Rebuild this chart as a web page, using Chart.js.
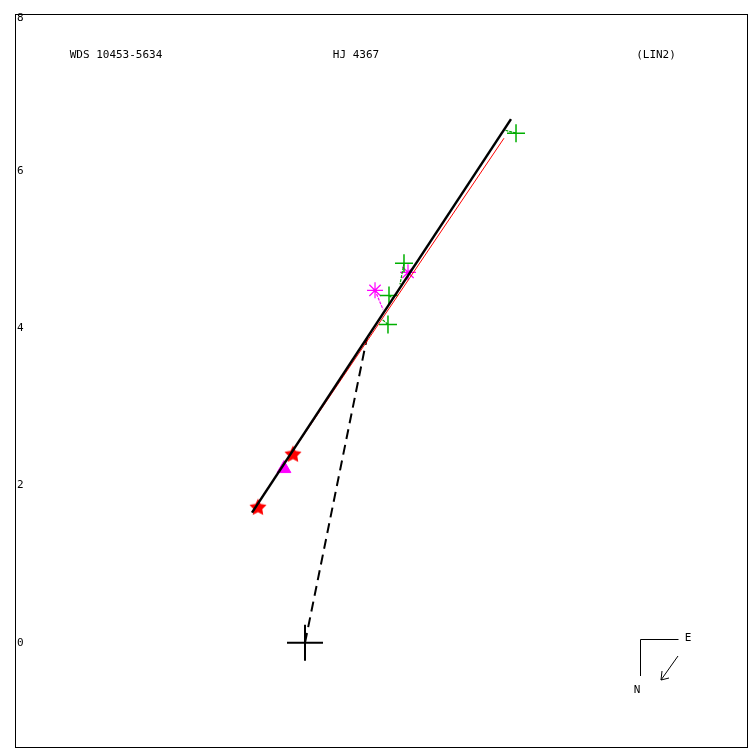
<!DOCTYPE html>
<html><head><meta charset="utf-8">
<script src="https://cdn.jsdelivr.net/npm/chart.js@4"></script>
<style>html,body{margin:0;padding:0;background:#fff;overflow:hidden}canvas{display:block}</style>
</head><body><canvas id="c" width="750" height="750" style="width:750px;height:750px"></canvas>
<script>
// ---- data ----
const orbitX = [-0.675, 2.624];
const orbitY = [1.656, 6.662];
const fitX = [-0.624, 2.535];
const fitY = [1.745, 6.420];
const nodeX = [0, 0.790];
const nodeY = [0, 3.885];
const measX = [2.688, 1.261, 1.070, 1.057];
const measY = [6.484, 4.828, 4.420, 4.051];
const measOX = [2.548, 1.210, 1.121, 0.981];
const measOY = [6.522, 4.561, 4.382, 4.115];
const astX = [0.892, 1.312];
const astY = [4.484, 4.713];
const astOX = [0.994, 1.274];
const astOY = [4.242, 4.675];
const starX = [-0.599, -0.153];
const starY = [1.720, 2.395];
const triX = [-0.268];
const triY = [2.217];
const primaryX = [0];
const primaryY = [0];
const yTicks = [0, 2, 4, 6, 8];
const titles = ["WDS 10453-5634", "HJ 4367", "(LIN2)"];

const pts = (xs, ys) => xs.map((x, i) => ({x, y: ys[i]}));
const segSets = (xs, ys, ox, oy, color) => xs.map((x, i) => ({
  data: [{x, y: ys[i]}, {x: ox[i], y: oy[i]}],
  showLine: true, borderColor: color, borderWidth: 1.2, borderDash: [3, 1], pointRadius: 0
}));

function starImg(r, color) {
  const c = document.createElement('canvas');
  c.width = c.height = r * 2 + 2;
  const g = c.getContext('2d');
  g.fillStyle = color;
  g.beginPath();
  for (let i = 0; i < 10; i++) {
    const a = -Math.PI / 2 + i * Math.PI / 5;
    const rr = i % 2 ? r * 0.5 : r;
    g.lineTo(r + 1 + rr * Math.cos(a), r + 1 + rr * Math.sin(a));
  }
  g.closePath(); g.fill();
  return c;
}

const mono = "'DejaVu Sans Mono', 'Liberation Mono', monospace";

const decor = {
  id: 'decor',
  afterDraw(chart) {
    const {ctx, chartArea: a} = chart;
    const ys = chart.scales.y;
    ctx.save();
    ctx.strokeStyle = '#000'; ctx.lineWidth = 1;
    ctx.strokeRect(a.left + 0.5, a.top + 0.5, a.right - a.left - 1, a.bottom - a.top - 1);
    ctx.fillStyle = '#000';
    ctx.font = '11px ' + mono;
    ctx.textAlign = 'left'; ctx.textBaseline = 'middle';
    yTicks.forEach(v => {
      const py = Math.max(ys.getPixelForValue(v), a.top + 4);
      ctx.fillText(String(v), a.left + 2, py);
    });
    ctx.textAlign = 'center';
    ctx.fillText(titles[0], 116, 55);
    ctx.fillText(titles[1], 356, 55);
    ctx.fillText(titles[2], 656, 55);
    ctx.beginPath();
    ctx.moveTo(678.5, 639.5); ctx.lineTo(640.5, 639.5); ctx.lineTo(640.5, 676);
    ctx.moveTo(678, 656); ctx.lineTo(661, 680);
    ctx.moveTo(661, 680); ctx.lineTo(662, 671);
    ctx.moveTo(661, 680); ctx.lineTo(669, 678);
    ctx.stroke();
    ctx.fillText('E', 688, 638);
    ctx.fillText('N', 637, 690);
    ctx.restore();
  }
};

new Chart(document.getElementById('c'), {
  type: 'scatter',
  data: {
    datasets: [
      {data: pts(orbitX, orbitY), showLine: true, borderColor: '#000', borderWidth: 2.5, pointRadius: 0},
      {data: pts(fitX, fitY), showLine: true, borderColor: '#ff0000', borderWidth: 1, pointRadius: 0},
      {data: pts(nodeX, nodeY), showLine: true, borderColor: '#000', borderWidth: 2, borderDash: [10, 6], pointRadius: 0},
      ...segSets(measX, measY, measOX, measOY, '#00a000'),
      ...segSets(astX, astY, astOX, astOY, '#ff00ff'),
      {data: pts(measX, measY), pointStyle: 'cross', pointRadius: 9, borderColor: '#00b000', borderWidth: 1.5},
      {data: pts(astX, astY), pointStyle: 'star', pointRadius: 8, borderColor: '#ff00ff', borderWidth: 1.2},
      {data: pts(starX, starY), pointStyle: starImg(9, '#ff0000'), pointRadius: 9},
      {data: pts(triX, triY), pointStyle: 'triangle', pointRadius: 8, backgroundColor: '#ff00ff', borderColor: '#ff00ff', borderWidth: 1},
      {data: pts(primaryX, primaryY), pointStyle: 'cross', pointRadius: 18, borderColor: '#000', borderWidth: 2}
    ]
  },
  options: {
    responsive: false, animation: false, devicePixelRatio: 1,
    layout: {autoPadding: false, padding: {left: 15, top: 14, right: 2, bottom: 2}},
    plugins: {legend: {display: false}, tooltip: {enabled: false}},
    scales: {
      x: {type: 'linear', min: -3.694, max: 5.643, display: false},
      y: {type: 'linear', min: -1.338, max: 8, display: false}
    }
  },
  plugins: [decor]
});
</script>
</body></html>
